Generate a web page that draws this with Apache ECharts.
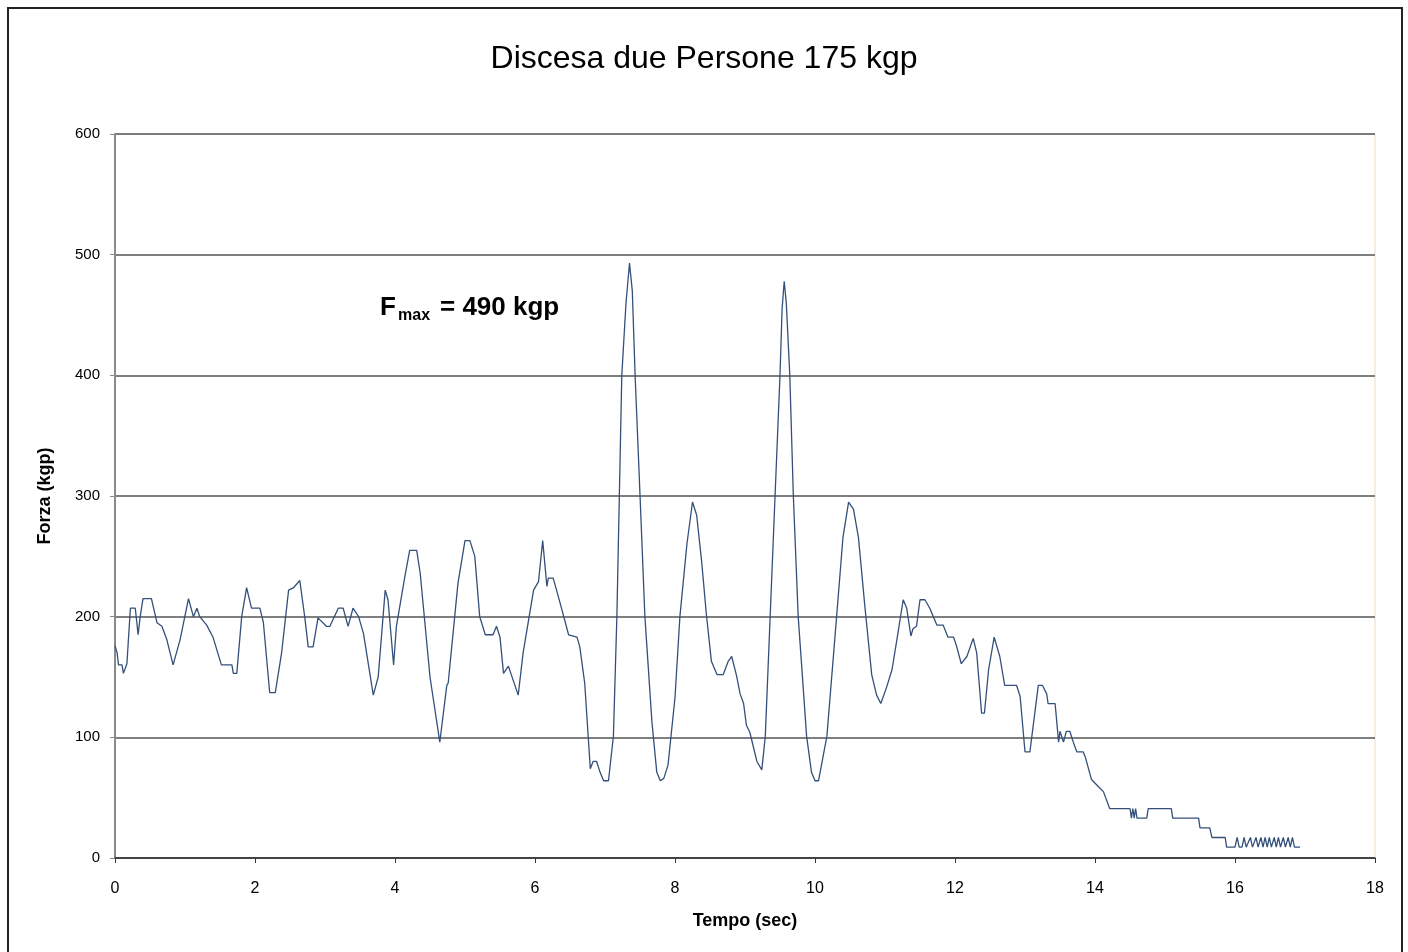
<!DOCTYPE html>
<html>
<head>
<meta charset="utf-8">
<script src="https://cdn.jsdelivr.net/npm/echarts@6/dist/echarts.min.js"></script>
<style>
html,body{margin:0;padding:0;background:#fff;}
#chart{width:1408px;height:952px;}
</style>
</head>
<body>
<div id="chart"></div>
<script>
const chartTitle = 'Discesa due Persone 175 kgp';
const xAxisTitle = 'Tempo (sec)';
const yAxisTitle = 'Forza (kgp)';
const xTicks = [0, 2, 4, 6, 8, 10, 12, 14, 16, 18];
const yTicks = [0, 100, 200, 300, 400, 500, 600];

const timeSec = [
 0.00,0.03,0.05,0.10,0.12,0.17,0.22,0.29,0.33,0.36,0.40,0.52,0.60,0.67,0.74,0.83,0.93,1.05,1.12,1.17,
 1.21,1.31,1.40,1.52,1.67,1.69,1.74,1.81,1.88,1.95,2.07,2.12,2.21,2.29,2.38,2.48,2.55,2.64,2.71,2.76,
 2.83,2.90,3.02,3.07,3.19,3.26,3.33,3.40,3.48,3.55,3.69,3.76,3.86,3.90,3.98,4.02,4.14,4.21,4.31,4.36,
 4.50,4.64,4.74,4.76,4.90,5.00,5.07,5.14,5.21,5.29,5.40,5.45,5.50,5.55,5.62,5.69,5.76,5.83,5.98,6.05,
 6.11,6.17,6.19,6.26,6.36,6.48,6.60,6.64,6.71,6.79,6.83,6.88,6.93,6.98,7.05,7.12,7.17,7.24,7.30,7.35,
 7.39,7.43,7.50,7.57,7.67,7.74,7.79,7.84,7.90,8.00,8.07,8.17,8.25,8.31,8.38,8.45,8.52,8.60,8.69,8.76,
 8.81,8.88,8.93,8.98,9.02,9.07,9.12,9.17,9.24,9.29,9.36,9.43,9.50,9.53,9.56,9.59,9.64,9.69,9.76,9.88,
 9.95,10.00,10.05,10.17,10.31,10.40,10.48,10.55,10.62,10.71,10.81,10.88,10.94,11.02,11.10,11.17,11.26,11.31,11.37,11.40,
 11.45,11.50,11.57,11.64,11.74,11.83,11.90,11.98,12.02,12.09,12.17,12.26,12.31,12.38,12.42,12.48,12.56,12.64,12.71,12.88,
 12.93,13.00,13.07,13.19,13.25,13.31,13.33,13.43,13.48,13.50,13.55,13.59,13.64,13.69,13.74,13.83,13.86,13.95,14.05,14.12,
 14.21,14.50,14.52,14.54,14.56,14.58,14.60,14.74,14.76,15.09,15.11,15.48,15.50,15.64,15.67,15.86,15.88,16.00,16.03,16.06,
 16.10,16.13,16.16,16.22,16.25,16.30,16.33,16.37,16.40,16.43,16.46,16.49,16.52,16.56,16.59,16.62,16.65,16.69,16.72,16.76,
 16.79,16.82,16.85,16.93
];
const forceKgp = [
 176,170,160,160,153,161,207,207,185,200,215,215,195,192,181,160,181,215,200,207,
 200,193,183,160,160,153,153,200,224,207,207,195,137,137,170,222,224,230,200,175,
 175,199,192,192,207,207,192,207,200,186,135,150,222,214,160,192,233,255,255,236,
 150,96,143,145,228,263,263,250,200,185,185,192,183,153,159,147,135,170,222,229,
 263,225,232,232,211,185,183,175,145,74,80,80,71,64,64,101,201,400,460,493,
 470,400,301,200,113,71,64,66,77,133,200,260,295,284,246,201,163,152,152,163,
 167,151,136,128,110,104,92,80,73,101,201,301,400,455,478,460,400,301,200,101,
 71,64,64,101,201,266,295,289,266,210,152,135,128,141,156,181,214,207,184,190,
 192,214,214,207,193,193,183,183,176,161,167,182,170,120,120,156,183,167,143,143,
 134,88,88,143,143,136,128,128,96,105,96,105,105,96,88,88,84,65,59,55,
 41,41,33,41,33,41,33,33,41,41,33,33,25,25,17,17,9,9,17,9,
 9,17,9,17,9,17,9,17,9,17,9,17,9,17,9,17,9,17,9,17,
 9,17,9,9
];

const fontFam = '"Liberation Sans", Arial, sans-serif';
const seriesData = timeSec.map((t, i) => [t, forceKgp[i]]);

const chart = echarts.init(document.getElementById('chart'), null, {renderer: 'canvas'});
chart.setOption({
  animation: false,
  backgroundColor: '#ffffff',
  textStyle: {fontFamily: fontFam},
  title: {
    text: chartTitle,
    left: 'center',
    top: 38,
    textStyle: {fontFamily: fontFam, fontSize: 32, fontWeight: 'normal', color: '#000'}
  },
  grid: {
    left: 115, right: 33, top: 134, bottom: 94,
    show: true, borderColor: '#f2dcc6', borderWidth: 1, backgroundColor: 'transparent'
  },
  xAxis: {
    type: 'value',
    min: xTicks[0], max: xTicks[xTicks.length - 1], interval: 2,
    name: xAxisTitle,
    nameLocation: 'middle',
    nameGap: 54,
    nameTextStyle: {fontFamily: fontFam, fontSize: 18, fontWeight: 'bold', color: '#000'},
    axisLine: {show: true, onZero: false, lineStyle: {color: '#333', width: 1.5}},
    axisTick: {show: true, length: 5, inside: false, lineStyle: {color: '#333'}},
    axisLabel: {fontFamily: fontFam, fontSize: 16, color: '#000', margin: 23},
    splitLine: {show: false}
  },
  yAxis: {
    type: 'value',
    min: yTicks[0], max: yTicks[yTicks.length - 1], interval: 100,
    name: yAxisTitle,
    nameLocation: 'middle',
    nameGap: 61,
    nameRotate: 90,
    nameTextStyle: {fontFamily: fontFam, fontSize: 18, fontWeight: 'bold', color: '#000'},
    axisLine: {show: true, lineStyle: {color: '#8a8a8a', width: 2}},
    axisTick: {show: true, length: 5, inside: false, lineStyle: {color: '#8a8a8a'}},
    axisLabel: {fontFamily: fontFam, fontSize: 15, color: '#000', margin: 15},
    splitLine: {show: true, lineStyle: {color: '#555', width: 1.5}}
  },
  series: [{
    type: 'line',
    data: seriesData,
    showSymbol: false,
    symbol: 'none',
    lineStyle: {color: '#34507a', width: 1.3},
    z: 5
  }],
  graphic: [
    {type: 'rect', shape: {x: 8, y: 8, width: 1394, height: 960}, style: {fill: null, stroke: '#222', lineWidth: 2}, silent: true},
    {type: 'text', left: 380, top: 295, style: {text: 'F', font: 'bold 26px ' + fontFam, fill: '#000'}},
    {type: 'text', left: 398, top: 308, style: {text: 'max', font: 'bold 16px ' + fontFam, fill: '#000'}},
    {type: 'text', left: 440, top: 295, style: {text: '= 490 kgp', font: 'bold 26px ' + fontFam, fill: '#000'}}
  ]
});
</script>
</body>
</html>
